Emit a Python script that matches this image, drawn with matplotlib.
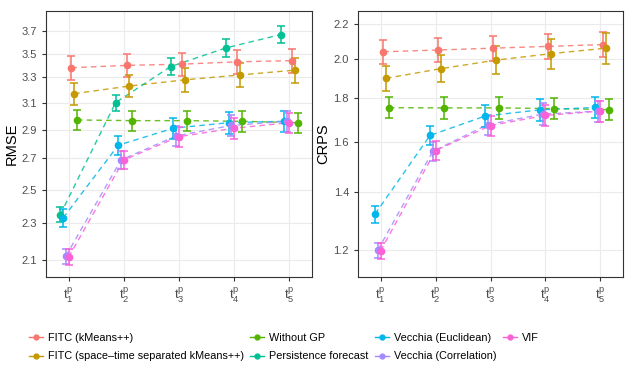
import numpy as np
import matplotlib
matplotlib.use("Agg")
import matplotlib.pyplot as plt
from matplotlib.ticker import FixedLocator, NullLocator

plt.rcParams['font.family'] = ['Liberation Sans', 'DejaVu Sans']
plt.rcParams['mathtext.fontset'] = 'custom'
plt.rcParams['mathtext.rm'] = 'Liberation Sans'

# data
horizons = [1, 2, 3, 4, 5]
tick_labels = [r'$\mathregular{t_%d^p}$' % h for h in horizons]

methods = ["FITC (kMeans++)", "FITC (space\u2013time separated kMeans++)", "Without GP",
           "Persistence forecast", "Vecchia (Euclidean)", "Vecchia (Correlation)", "VIF"]
colors = ["#F8766D", "#C49A00", "#53B400", "#00C094", "#00B6EB", "#A58AFF", "#FB61D7"]
dodge = [0.05, 0.10, 0.15, -0.15, -0.10, -0.05, 0.0]

rmse_fitc_km = [3.38, 3.40, 3.41, 3.43, 3.44]
rmse_fitc_st = [3.17, 3.23, 3.28, 3.32, 3.36]
rmse_nogp = [2.97, 2.965, 2.965, 2.96, 2.95]
rmse_persist = [2.35, 3.10, 3.39, 3.55, 3.67]
rmse_vec_euc = [2.33, 2.79, 2.91, 2.95, 2.96]
rmse_vec_cor = [2.12, 2.69, 2.855, 2.93, 2.96]
rmse_vif = [2.115, 2.69, 2.85, 2.91, 2.95]
rmse_err_fitc_km = [0.10, 0.10, 0.10, 0.10, 0.10]
rmse_err_fitc_st = [0.085, 0.09, 0.10, 0.10, 0.105]
rmse_err_nogp = [0.075, 0.075, 0.075, 0.075, 0.075]
rmse_err_persist = [0.045, 0.06, 0.07, 0.075, 0.08]
rmse_err_vec_euc = [0.05, 0.065, 0.075, 0.08, 0.08]
rmse_err_vec_cor = [0.04, 0.06, 0.07, 0.075, 0.075]
rmse_err_vif = [0.04, 0.06, 0.07, 0.075, 0.075]

crps_fitc_km = [2.04, 2.05, 2.06, 2.07, 2.08]
crps_fitc_st = [1.90, 1.95, 1.995, 2.03, 2.06]
crps_nogp = [1.756, 1.755, 1.755, 1.752, 1.747]
crps_vec_euc = [1.32, 1.63, 1.717, 1.746, 1.757]
crps_vec_cor = [1.198, 1.562, 1.678, 1.726, 1.74]
crps_vif = [1.196, 1.565, 1.674, 1.72, 1.74]
crps_err_fitc_km = [0.065, 0.065, 0.07, 0.07, 0.07]
crps_err_fitc_st = [0.065, 0.07, 0.075, 0.08, 0.085]
crps_err_nogp = [0.05, 0.05, 0.05, 0.05, 0.05]
crps_err_vec_euc = [0.03, 0.04, 0.05, 0.05, 0.05]
crps_err_vec_cor = [0.025, 0.04, 0.045, 0.05, 0.05]
crps_err_vif = [0.025, 0.04, 0.045, 0.05, 0.05]

rmse = [rmse_fitc_km, rmse_fitc_st, rmse_nogp, rmse_persist, rmse_vec_euc, rmse_vec_cor, rmse_vif]
rmse_err = [rmse_err_fitc_km, rmse_err_fitc_st, rmse_err_nogp, rmse_err_persist,
            rmse_err_vec_euc, rmse_err_vec_cor, rmse_err_vif]
crps = [crps_fitc_km, crps_fitc_st, crps_nogp, None, crps_vec_euc, crps_vec_cor, crps_vif]
crps_err = [crps_err_fitc_km, crps_err_fitc_st, crps_err_nogp, None,
            crps_err_vec_euc, crps_err_vec_cor, crps_err_vif]

rmse_ticks = [2.1, 2.3, 2.5, 2.7, 2.9, 3.1, 3.3, 3.5, 3.7]
crps_ticks = [1.2, 1.4, 1.6, 1.8, 2.0, 2.2]

W, H = 634, 381
fig = plt.figure(figsize=(W / 100, H / 100), dpi=100)
ax1 = fig.add_axes([46 / W, (H - 277) / H, 266 / W, 266 / H])
ax2 = fig.add_axes([358 / W, (H - 277) / H, 265 / W, 266 / H])


def panel(ax, vals, errs, ticks, ylim, ylabel):
    ax.set_yscale('log')
    for i in range(len(methods)):
        if vals[i] is None:
            continue
        x = np.array(horizons) + dodge[i]
        ax.plot(x, vals[i], color=colors[i], ls=(0, (4, 3)), lw=1, alpha=0.85, zorder=2)
        ax.errorbar(x, vals[i], yerr=errs[i], fmt='none', ecolor=colors[i],
                    elinewidth=1.1, capsize=3, capthick=1.1, zorder=3)
        ax.plot(x, vals[i], 'o', color=colors[i], ms=4.5, zorder=4)
    ax.set_ylim(*ylim)
    ax.set_xlim(0.59, 5.41)
    ax.yaxis.set_major_locator(FixedLocator(ticks))
    ax.yaxis.set_minor_locator(NullLocator())
    ax.set_yticklabels([f"{t:.1f}" for t in ticks])
    ax.set_xticks(horizons)
    ax.set_xticklabels(tick_labels)
    ax.grid(True, color='#EBEBEB', lw=0.8, zorder=0)
    ax.set_axisbelow(True)
    for s in ax.spines.values():
        s.set_color('#333333')
        s.set_linewidth(0.8)
    ax.tick_params(colors='#333333', labelcolor='#4D4D4D', labelsize=8, length=3, width=0.8)
    ax.tick_params(axis='x', labelsize=9.5)
    ax.set_ylabel(ylabel, fontsize=10.5, labelpad=2)


panel(ax1, rmse, rmse_err, rmse_ticks, (2.013, 3.89), 'RMSE')
panel(ax2, crps, crps_err, crps_ticks, (1.115, 2.276), 'CRPS')

leg_handles = []
for i in range(len(methods)):
    h, = ax1.plot([], [], color=colors[i], marker='o', ms=3.5, lw=1)
    leg_handles.append(h)
fig.legend(leg_handles, methods, ncol=4, loc='center left', bbox_to_anchor=(19 / W, 1 - 347 / H),
           frameon=False, fontsize=7.8, handlelength=1.3, handletextpad=0.45,
           columnspacing=0.6, labelspacing=0.8)

fig.savefig('out.png', dpi=100)
